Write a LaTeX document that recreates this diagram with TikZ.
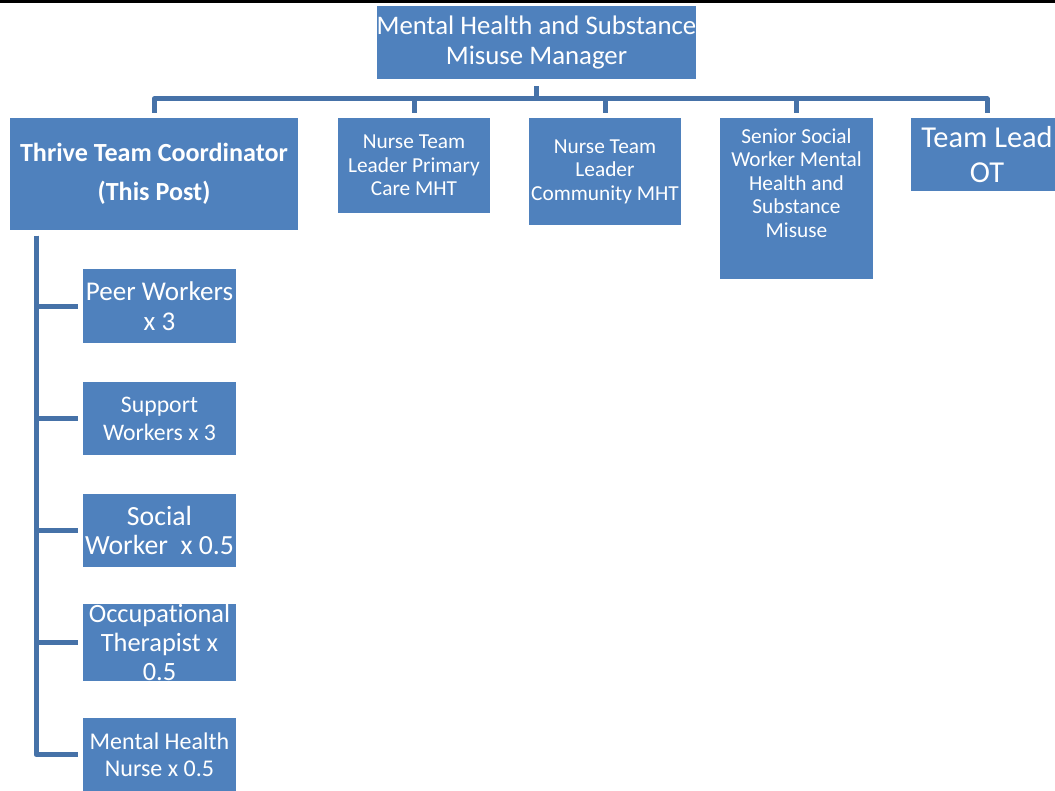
\documentclass[tikz,border=0pt]{standalone}
\usepackage{fontspec}
\setmainfont[Ligatures=NoCommon]{Carlito}
\definecolor{boxblue}{RGB}{79,129,189}
\definecolor{lineblue}{RGB}{70,114,168}
\newcommand\myfs[2]{\fontsize{#1pt}{#2pt}\selectfont}
\begin{document}
\begin{tikzpicture}[x=0.75pt,y=-0.75pt,
  box/.style 2 args={fill=boxblue, text=white, inner sep=0pt, align=center,
    minimum width=#1*0.75pt, minimum height=#2*0.75pt},
  conn/.style={draw=lineblue, line width=3.75pt, line join=round},
]
\useasboundingbox (0,0) rectangle (1055,791);
\draw[line width=2.25pt] (0,2) -- (1055,2);

\node[box={317}{73}, font=\myfs{20.1}{22.5}] (man) at (536.5,42.5) {Mental Health and Substance\\Misuse Manager};

\node[box={288}{112}, font=\bfseries\myfs{19.6}{29.25}] (thr) at (154,174) {Thrive Team Coordinator\\(This Post)};
\node[box={152}{95}, font=\myfs{16}{17.6}] (ntlp) at (414,165.5) {Nurse Team\\Leader Primary\\Care MHT};
\node[box={152}{107}, font=\myfs{16}{17.6}] (ntlc) at (605,171.5) {Nurse Team\\Leader\\Community MHT};
\node[box={153}{161}, font=\myfs{16}{17.6}] (ssw) at (796.5,198.5) {Senior Social\\Worker Mental\\Health and\\Substance\\Misuse\\[6pt]\mbox{}};
\node[box={152}{73}, font=\myfs{22.8}{26.25}] (tlot) at (987,154.5) {Team Lead\\OT};

\node[box={153}{73}, font=\myfs{20.3}{22.5}] (pw) at (159.5,306) {Peer Workers\\x 3};
\node[box={153}{73}, font=\myfs{17.8}{21}] (sw) at (159.5,418.5) {Support\\Workers x 3};
\node[box={153}{73}, font=\myfs{20.8}{21.75}] (soc) at (159.5,530.5) {Social\\Worker\ \ x 0.5};
\node[box={153}{73}, font=\myfs{19.8}{21.75}] (ot) at (159.5,642.5) {Occupational\\Therapist x\\0.5};
\node[box={153}{73}, font=\myfs{18}{20.25}] (mhn) at (159.5,754.5) {Mental Health\\Nurse x 0.5};

\coordinate (bar) at (537,99);
\foreach \c in {thr,ntlp,ntlc,ssw,tlot}
  \draw[conn, shorten <=5.25pt, shorten >=3.75pt] (man.south) -- (man.south |- bar) -| (\c.north);

\coordinate (sp) at (36,230);
\foreach \c in {pw,sw,soc,ot,mhn}
  \draw[conn, shorten <=4.5pt, shorten >=3.75pt] (sp) |- (\c.west);
\end{tikzpicture}
\end{document}
